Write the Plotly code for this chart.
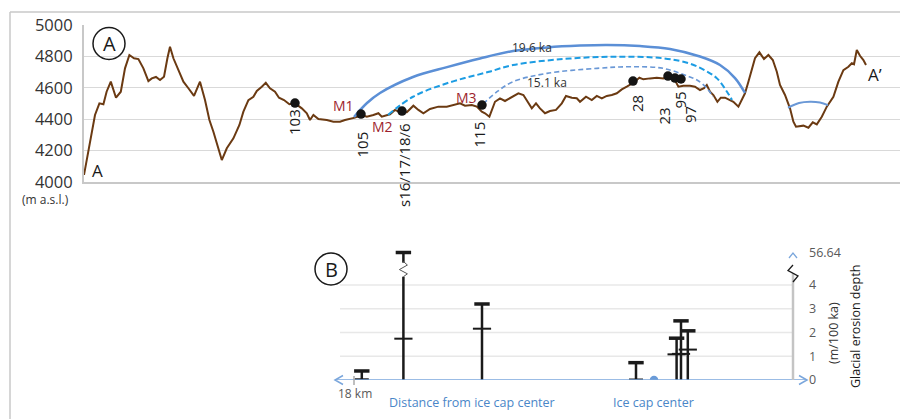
import plotly.graph_objects as go

W, H = 900, 419
FONT = "Open Sans"

# ---------------- Panel A data: elevation profile A - A' ----------------
profile_km = [0.00, 0.30, 0.55, 0.77, 0.97, 1.13, 1.34, 1.60, 1.84, 2.05,
              2.27, 2.50, 2.72, 2.97, 3.22, 3.39, 3.60, 3.80, 4.00, 4.17,
              4.30, 4.47, 4.72, 4.97, 5.22, 5.50, 5.80, 6.05, 6.27, 6.47,
              6.89, 7.14, 7.47, 7.77, 7.97, 8.22, 8.47, 8.64, 8.89, 9.09,
              9.30, 9.55, 9.75, 10.00, 10.27, 10.55, 10.89, 11.14, 11.30, 11.47,
              11.72, 12.14, 12.47, 12.80, 13.05, 13.30, 13.55, 13.89, 14.14, 14.47,
              14.72, 14.89, 15.30, 15.55, 15.80, 16.14, 16.47, 16.72, 16.97, 17.30,
              17.72, 18.14, 18.47, 18.80, 19.05, 19.39, 19.64, 19.89, 20.05, 20.27,
              20.55, 20.80, 21.05, 21.39, 21.72, 21.97, 22.22, 22.39, 22.60, 22.80,
              23.05, 23.30, 23.60, 23.89, 24.10, 24.39, 24.64, 24.80, 25.10, 25.39,
              25.64, 25.89, 26.14, 26.39, 26.64, 26.89, 27.14, 27.47, 27.77, 27.97,
              28.30, 28.64, 28.97, 29.22, 29.47, 29.72, 29.97, 30.30, 30.55, 30.80,
              31.00, 31.14, 31.30, 31.47, 31.67, 31.84, 32.05, 32.27, 32.47, 32.72,
              32.89, 33.05, 33.22, 33.39, 33.55, 33.77, 34.00, 34.22, 34.44, 34.64,
              34.80, 35.05, 35.30, 35.47, 35.60, 35.97, 36.22, 36.44, 36.64, 36.89,
              37.14, 37.47, 37.72, 37.97, 38.22, 38.39, 38.50, 38.64, 38.80, 38.97,
              39.10]
profile_elev = [4045, 4257, 4427, 4501, 4495, 4575, 4639, 4537, 4575, 4724,
                4809, 4788, 4783, 4724, 4643, 4660, 4669, 4650, 4671, 4788,
                4862, 4788, 4713, 4639, 4597, 4548, 4639, 4522, 4395, 4320,
                4140, 4215, 4278, 4363, 4448, 4522, 4543, 4580, 4607, 4632,
                4597, 4575, 4537, 4522, 4495, 4501, 4469, 4438, 4395, 4427,
                4401, 4395, 4384, 4384, 4395, 4401, 4410, 4427, 4416, 4427,
                4438, 4416, 4431, 4459, 4444, 4444, 4486, 4459, 4438, 4465,
                4480, 4480, 4490, 4501, 4486, 4490, 4480, 4448, 4438, 4416,
                4511, 4533, 4516, 4543, 4565, 4554, 4501, 4469, 4501, 4469,
                4438, 4452, 4459, 4501, 4548, 4537, 4533, 4511, 4543, 4522,
                4548, 4533, 4548, 4554, 4565, 4590, 4607, 4632, 4664, 4654,
                4660, 4664, 4660, 4677, 4667, 4607, 4613, 4613, 4607, 4586,
                4597, 4618, 4575, 4554, 4511, 4537, 4537, 4522, 4511, 4480,
                4522, 4565, 4639, 4724, 4788, 4826, 4783, 4809, 4777, 4702,
                4618, 4554, 4469, 4384, 4352, 4359, 4346, 4380, 4367, 4416,
                4480, 4543, 4639, 4713, 4734, 4756, 4750, 4841, 4804, 4777,
                4745]

sample_names = ["103", "105", "s16/17/18/6", "115", "28", "23", "95", "97"]
sample_km = [10.55, 13.85, 15.90, 19.90, 27.45, 29.20, 29.55, 29.85]
sample_elev = [4503, 4433, 4452, 4490, 4643, 4675, 4662, 4656]

# reconstructed ice surfaces
arc196_km = [13.5, 14.15, 14.8, 16.45, 18.15, 19.8, 21.45, 23.15, 24.8, 26.15,
             27.8, 29.3, 30.8, 31.8, 32.55, 33.05]
arc196_elev = [4414, 4503, 4567, 4669, 4732, 4787, 4834, 4857, 4869, 4873,
               4866, 4847, 4799, 4745, 4662, 4567]
arcM2_km = [15.2, 16.45, 18.15, 20.25, 21.45, 23.95, 26.45, 28.95, 30.25, 31.05,
            31.65, 32.15, 32.4]
arcM2_elev = [4427, 4543, 4629, 4702, 4745, 4783, 4798, 4788, 4756, 4710,
              4660, 4575, 4522]
arc151_km = [19.95, 20.65, 21.45, 23.15, 25.65, 27.3, 28.95, 30.25, 30.65, 31.15, 31.45]
arc151_elev = [4497, 4575, 4639, 4692, 4724, 4734, 4724, 4671, 4650, 4597, 4543]
arcvalley_km = [35.2, 35.75, 36.3, 36.8, 37.2]
arcvalley_elev = [4473, 4503, 4511, 4506, 4490]

elev_ticks = [4000, 4200, 4400, 4600, 4800, 5000]

# ---------------- Panel B data: glacial erosion depth (m/100 ka) ----------------
erosion_km = [13.89, 15.97, 19.90, 27.60, 29.63, 29.85, 30.19]
erosion_max = [0.38, 56.64, 3.20, 0.73, 1.76, 2.49, 2.07]
erosion_mid = [None, 1.74, 2.16, None, 1.08, 1.10, 1.28]
erosion_min = [0.02, None, None, 0.01, None, None, None]
ice_center_km = 28.50
erosion_ticks = [0, 1, 2, 3, 4]


# ---------------- helpers (layout only) ----------------
def px(x):
    return x / W


def py(y):
    return 1 - y / H


X0_PX = 84
KM_PER_PX = 1 / 20
X_RANGE = [0, (W - X0_PX) * KM_PER_PX]
B_PX_PER_UNIT = 23.75
B_BASE_PX = 380
B_TOP = 5.5
BREAK_AT = 4.5
BREAK_POS = 5.37
GAP_LO, GAP_HI = 4.35, 4.94


def disp(v):
    return v if v <= BREAK_AT else BREAK_POS


fig = go.Figure()

# ---- Panel A traces ----
fig.add_trace(go.Scatter(x=profile_km, y=profile_elev, mode="lines",
                         line=dict(color="#6b3a12", width=2), hoverinfo="skip"))
fig.add_trace(go.Scatter(x=arc196_km, y=arc196_elev, mode="lines",
                         line=dict(color="#5b8fd6", width=2.5, shape="spline"), hoverinfo="skip"))
fig.add_trace(go.Scatter(x=arcM2_km, y=arcM2_elev, mode="lines",
                         line=dict(color="#1c9ce3", width=2, dash="6px,3px", shape="spline"), hoverinfo="skip"))
fig.add_trace(go.Scatter(x=arc151_km, y=arc151_elev, mode="lines",
                         line=dict(color="#6a98d6", width=1.6, dash="5px,3px", shape="spline"), hoverinfo="skip"))
fig.add_trace(go.Scatter(x=arcvalley_km, y=arcvalley_elev, mode="lines",
                         line=dict(color="#6a98d6", width=2, shape="spline"), hoverinfo="skip"))
fig.add_trace(go.Scatter(x=sample_km, y=sample_elev, mode="markers",
                         marker=dict(color="#141414", size=9.5), hoverinfo="skip"))

# ---- Panel B traces ----
stem_x, stem_y = [], []
for xk, lo, hi in zip(erosion_km, erosion_min, erosion_max):
    lo_v = lo if lo is not None else 0
    if hi > BREAK_AT:
        stem_x += [xk, xk, None, xk, xk, None]
        stem_y += [lo_v, GAP_LO, None, GAP_HI, disp(hi), None]
    else:
        stem_x += [xk, xk, None]
        stem_y += [lo_v, disp(hi), None]
fig.add_trace(go.Scatter(x=stem_x, y=stem_y, mode="lines", xaxis="x2", yaxis="y2",
                         line=dict(color="#1a1a1a", width=2.5), hoverinfo="skip"))
fig.add_trace(go.Scatter(x=erosion_km, y=[disp(v) for v in erosion_max], mode="markers",
                         xaxis="x2", yaxis="y2",
                         marker=dict(symbol="line-ew", size=11, line=dict(width=3.5, color="#1a1a1a")),
                         hoverinfo="skip"))
mid_x = [x for x, m in zip(erosion_km, erosion_mid) if m is not None]
mid_y = [m for m in erosion_mid if m is not None]
fig.add_trace(go.Scatter(x=mid_x, y=mid_y, mode="markers", xaxis="x2", yaxis="y2",
                         marker=dict(symbol="line-ew", size=13, line=dict(width=2, color="#1a1a1a")),
                         hoverinfo="skip"))
lo_x = [x for x, m in zip(erosion_km, erosion_min) if m is not None]
lo_y = [m for m in erosion_min if m is not None]
fig.add_trace(go.Scatter(x=lo_x, y=lo_y, mode="markers", xaxis="x2", yaxis="y2",
                         marker=dict(symbol="line-ew", size=10, line=dict(width=2.5, color="#1a1a1a")),
                         hoverinfo="skip"))
fig.add_trace(go.Scatter(x=[ice_center_km], y=[0], mode="markers", xaxis="x2", yaxis="y2",
                         marker=dict(color="#6a9bd8", size=8.5), hoverinfo="skip"))

# ---- shapes ----
GRID = "#d9d9d9"
BORDER = "#c8c8c8"
BLUE_AX = "#7aa6dc"
shapes = []
shapes.append(dict(type="line", xref="paper", yref="paper", x0=px(10), x1=1, y0=py(12), y1=py(12),
                   line=dict(color=BORDER, width=1.5)))
shapes.append(dict(type="line", xref="paper", yref="paper", x0=px(10), x1=px(10), y0=py(12), y1=0,
                   line=dict(color=BORDER, width=1.5)))
for cx, cy in [(109, 43.5), (331, 269)]:
    shapes.append(dict(type="circle", xref="paper", yref="paper",
                       x0=px(cx - 16), x1=px(cx + 16), y0=py(cy + 16), y1=py(cy - 16),
                       line=dict(color="#1a1a1a", width=1.5)))
for v in erosion_ticks[1:]:
    shapes.append(dict(type="line", xref="paper", yref="y2", x0=px(340), x1=px(793), y0=v, y1=v,
                       line=dict(color="#e8e8e8", width=1.5), layer="below"))
shapes.append(dict(type="line", xref="paper", yref="y2", x0=px(335), x1=px(806), y0=0, y1=0,
                   line=dict(color=BLUE_AX, width=1.5)))


def ppath(points):
    return "M " + " L ".join(f"{px(a):.5f},{py(b):.5f}" for a, b in points)


shapes.append(dict(type="path", xref="paper", yref="paper", path=ppath([(343, 375.5), (335, 380), (343, 384.5)]),
                   line=dict(color=BLUE_AX, width=1.5)))
shapes.append(dict(type="path", xref="paper", yref="paper", path=ppath([(799, 375.5), (807, 380), (799, 384.5)]),
                   line=dict(color=BLUE_AX, width=1.5)))
shapes.append(dict(type="line", xref="paper", yref="paper", x0=px(354), x1=px(354), y0=py(376), y1=py(385),
                   line=dict(color="#aaaaaa", width=1.5)))
shapes.append(dict(type="line", xref="paper", yref="y2", x0=px(793), x1=px(793), y0=0, y1=BREAK_AT,
                   line=dict(color="#c4c4c4", width=2.5)))
shapes.append(dict(type="path", xref="paper", yref="paper", path=ppath([(789, 258), (793, 253), (797, 258)]),
                   line=dict(color=BLUE_AX, width=1.3)))
shapes.append(dict(type="path", xref="paper", yref="paper",
                   path=ppath([(793, 265), (788, 270.5), (798, 276), (793, 282)]),
                   line=dict(color="#1a1a1a", width=1.3)))
for xk, hi in zip(erosion_km, erosion_max):
    if hi > BREAK_AT:
        d = 4 * KM_PER_PX
        pts = [(xk, GAP_HI + 0.05), (xk + d, GAP_HI - 0.1), (xk - d, 4.65), (xk + d, GAP_LO + 0.12), (xk, GAP_LO)]
        path = "M " + " L ".join(f"{a:.4f},{b:.4f}" for a, b in pts)
        shapes.append(dict(type="path", xref="x2", yref="y2", path=path,
                           line=dict(color="#555555", width=1)))

# ---- annotations ----
ann = []


def add_text(text, x, y, size, color="#1a1a1a", angle=0, xanchor="center", yanchor="middle"):
    ann.append(dict(text=text, x=px(x), y=py(y), xref="paper", yref="paper", showarrow=False,
                    font=dict(family=FONT, size=size, color=color), textangle=angle,
                    xanchor=xanchor, yanchor=yanchor))


add_text("(m a.s.l.)", 45.5, 200, 12, "#333333")
add_text("A", 97, 171, 17)
add_text("A\u2019", 875, 74, 17)
add_text("A", 109, 43.5, 20)
add_text("B", 331, 269, 20)
dark_red = "#9e1f2e"
add_text("M1", 343, 105, 14, dark_red)
add_text("M2", 382, 127, 14, dark_red)
add_text("M3", 466.5, 97, 14, dark_red)
add_text("19.6 ka", 532, 47.5, 12, "#333333")
add_text("15.1 ka", 546.5, 82.5, 12, "#333333")
label_pos = {"103": (294, 122), "105": (361, 144.5), "s16/17/18/6": (404, 165), "115": (479, 134.5),
             "28": (637.5, 103.5), "23": (664, 116.5), "95": (679.5, 100), "97": (690, 115)}
for name in sample_names:
    lx, ly = label_pos[name]
    add_text(name, lx, ly, 15, "#1a1a1a", angle=-90)
add_text("18 km", 355, 393, 12, "#595959")
add_text("Distance from ice cap center", 472, 402.5, 12.5, "#4a86c8")
add_text("Ice cap center", 653.5, 402.5, 12.5, "#4a86c8")
add_text("(m/100 ka)", 833, 333, 12.5, "#333333", angle=-90)
add_text("Glacial erosion depth", 855, 327, 12.5, "#1a1a1a", angle=-90)

fig.update_layout(
    template="none",
    width=W, height=H, autosize=False,
    margin=dict(l=0, r=0, t=0, b=0, pad=0, autoexpand=False),
    paper_bgcolor="white", plot_bgcolor="white",
    showlegend=False,
    font=dict(family=FONT),
    xaxis=dict(domain=[px(X0_PX), 1], range=X_RANGE, anchor="y", showgrid=False, zeroline=False,
               showticklabels=False, ticks="", showline=True, linecolor=BORDER, linewidth=2,
               fixedrange=True, automargin=False),
    yaxis=dict(domain=[py(182), py(25)], range=[4000, 5000], anchor="x", tickvals=elev_ticks,
               showgrid=True, gridcolor=GRID, gridwidth=1.2, zeroline=False,
               showline=True, linecolor=BORDER, linewidth=2, ticks="",
               tickfont=dict(family=FONT, size=16.5, color="#333333"), ticklabelstandoff=6,
               fixedrange=True, automargin=False),
    xaxis2=dict(domain=[px(X0_PX), 1], range=X_RANGE, anchor="y2", visible=False,
                fixedrange=True, automargin=False),
    yaxis2=dict(domain=[py(B_BASE_PX), py(B_BASE_PX - B_TOP * B_PX_PER_UNIT)], range=[0, B_TOP],
                anchor="free", position=px(793), side="right", showgrid=False, zeroline=False,
                showline=False, ticks="",
                tickvals=erosion_ticks + [BREAK_POS],
                ticktext=[str(t) for t in erosion_ticks] + [f"{max(erosion_max):.2f}"],
                tickfont=dict(family=FONT, size=12.5, color="#595959"), ticklabelstandoff=15,
                fixedrange=True, automargin=False),
    shapes=shapes,
    annotations=ann,
)

fig.write_html("out.html", config={"displayModeBar": False},
               post_script="document.body.style.margin='0';document.body.style.overflow='hidden';")
